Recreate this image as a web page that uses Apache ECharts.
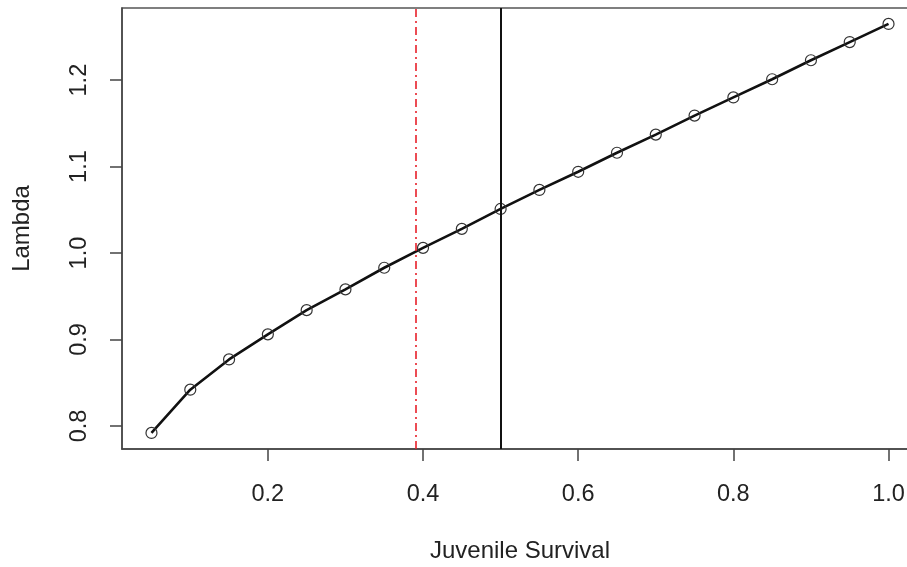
<!DOCTYPE html>
<html><head><meta charset="utf-8">
<script src="https://cdn.jsdelivr.net/npm/echarts@6/dist/echarts.min.js"></script>
<style>html,body{margin:0;padding:0;background:#fff}#c{width:907px;height:567px}</style>
</head><body><div id="c"></div>
<script>
const survival = [0.05,0.10,0.15,0.20,0.25,0.30,0.35,0.40,0.45,0.50,0.55,0.60,0.65,0.70,0.75,0.80,0.85,0.90,0.95,1.00];
const lambda = [0.792,0.842,0.877,0.906,0.934,0.958,0.983,1.006,1.028,1.051,1.073,1.094,1.116,1.137,1.159,1.180,1.201,1.223,1.244,1.265];
const xTicks = [0.2,0.4,0.6,0.8,1.0];
const yTicks = [0.8,0.9,1.0,1.1,1.2];
const currentSurvival = 0.5;
const thresholdSurvival = 0.385;

const font = 'Liberation Sans, Arial, sans-serif';
const chart = echarts.init(document.getElementById('c'));
chart.setOption({
  animation:false,
  grid:{left:122,top:8,width:796,height:441,outerBoundsMode:'none',containLabel:false,show:true,borderColor:'#555',borderWidth:1.5,backgroundColor:'transparent'},
  xAxis:{type:'value',min:0.012,max:1.038,
    name:'Juvenile Survival',nameLocation:'middle',nameGap:90,
    nameTextStyle:{fontFamily:font,fontSize:24,color:'#222'},
    axisLine:{show:true,onZero:false,lineStyle:{color:'#444',width:1.5}},
    axisTick:{show:true,length:12,customValues:xTicks,lineStyle:{color:'#444',width:1.5}},
    axisLabel:{customValues:xTicks,margin:34,fontFamily:font,fontSize:23.5,color:'#222',formatter:v=>v.toFixed(1)},
    splitLine:{show:false}},
  yAxis:{type:'value',min:0.7734,max:1.2834,
    name:'Lambda',nameLocation:'middle',nameGap:88,nameRotate:90,
    nameTextStyle:{fontFamily:font,fontSize:24,color:'#222'},
    axisLine:{show:true,onZero:false,lineStyle:{color:'#444',width:1.5}},
    axisTick:{show:true,length:12,customValues:yTicks,lineStyle:{color:'#444',width:1.5}},
    axisLabel:{customValues:yTicks,rotate:90,margin:30,fontFamily:font,fontSize:23.5,color:'#222',formatter:v=>v.toFixed(1)},
    splitLine:{show:false}},
  series:[{
    type:'line',
    data:survival.map((x,i)=>[x,lambda[i]]),
    symbol:'circle',symbolSize:11,showSymbol:true,
    itemStyle:{color:'rgba(0,0,0,0)',borderColor:'#333',borderWidth:1.2},
    lineStyle:{color:'#111',width:2.6},
    markLine:{silent:true,symbol:'none',label:{show:false},
      data:[
        {xAxis:currentSurvival,lineStyle:{color:'#111',width:2,type:'solid'}},
        {xAxis:thresholdSurvival,lineStyle:{color:'#e8202a',width:1.6,type:[8,4,2,4]}}
      ]}
  }]
});
</script></body></html>
